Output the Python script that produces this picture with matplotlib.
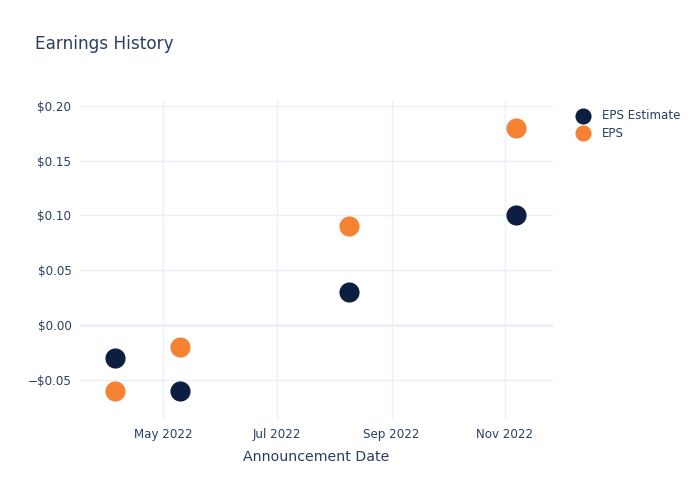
import numpy as np
import matplotlib
matplotlib.use("Agg")
import matplotlib.pyplot as plt
import matplotlib.dates as mdates
from matplotlib.ticker import FuncFormatter

# Data
dates = np.array(["2022-04-05", "2022-05-10", "2022-08-09", "2022-11-07"], dtype="datetime64[D]")
eps_estimate = [-0.03, -0.06, 0.03, 0.10]
eps_actual = [-0.06, -0.02, 0.09, 0.18]
y_ticks = [-0.05, 0.0, 0.05, 0.10, 0.15, 0.20]
x_ticks = np.array(["2022-05-01", "2022-07-01", "2022-09-01", "2022-11-01"], dtype="datetime64[D]")

text_color = "#2a3f5f"
grid_color = "#ebf0f8"
navy = "#0c1f40"
orange = "#f58233"

fig = plt.figure(figsize=(7, 5), dpi=100)
ax = fig.add_axes([0.114, 0.16, 0.676, 0.64])

ax.scatter(dates, eps_estimate, s=210, color=navy, label="EPS Estimate", zorder=3, linewidths=0)
ax.scatter(dates, eps_actual, s=210, color=orange, label="EPS", zorder=3, linewidths=0)

ax.set_xlim(np.datetime64("2022-03-17"), np.datetime64("2022-11-27"))
ax.set_ylim(-0.0868, 0.2055)

ax.set_xticks(x_ticks)
ax.xaxis.set_major_formatter(mdates.DateFormatter("%b %Y"))
ax.set_yticks(y_ticks)


def money(v, pos):
    s = "${:.2f}".format(abs(v))
    return "\u2212" + s if v < -1e-9 else s


ax.yaxis.set_major_formatter(FuncFormatter(money))

ax.grid(True, color=grid_color, linewidth=1, zorder=0)
ax.axhline(0, color=grid_color, linewidth=2, zorder=1)
for sp in ax.spines.values():
    sp.set_visible(False)
ax.tick_params(length=0, colors=text_color, labelsize=8.6, pad=6)

ax.set_xlabel("Announcement Date", color=text_color, fontsize=10.2, labelpad=6)
fig.text(0.05, 0.912, "Earnings History", color=text_color, fontsize=12.2, va="center")

ax.legend(loc="upper left", bbox_to_anchor=(1.016, 1.006), frameon=False,
          labelcolor=text_color, fontsize=8.6, handletextpad=0.55,
          labelspacing=0.4, markerscale=0.8)

fig.savefig("out.png", dpi=100)
